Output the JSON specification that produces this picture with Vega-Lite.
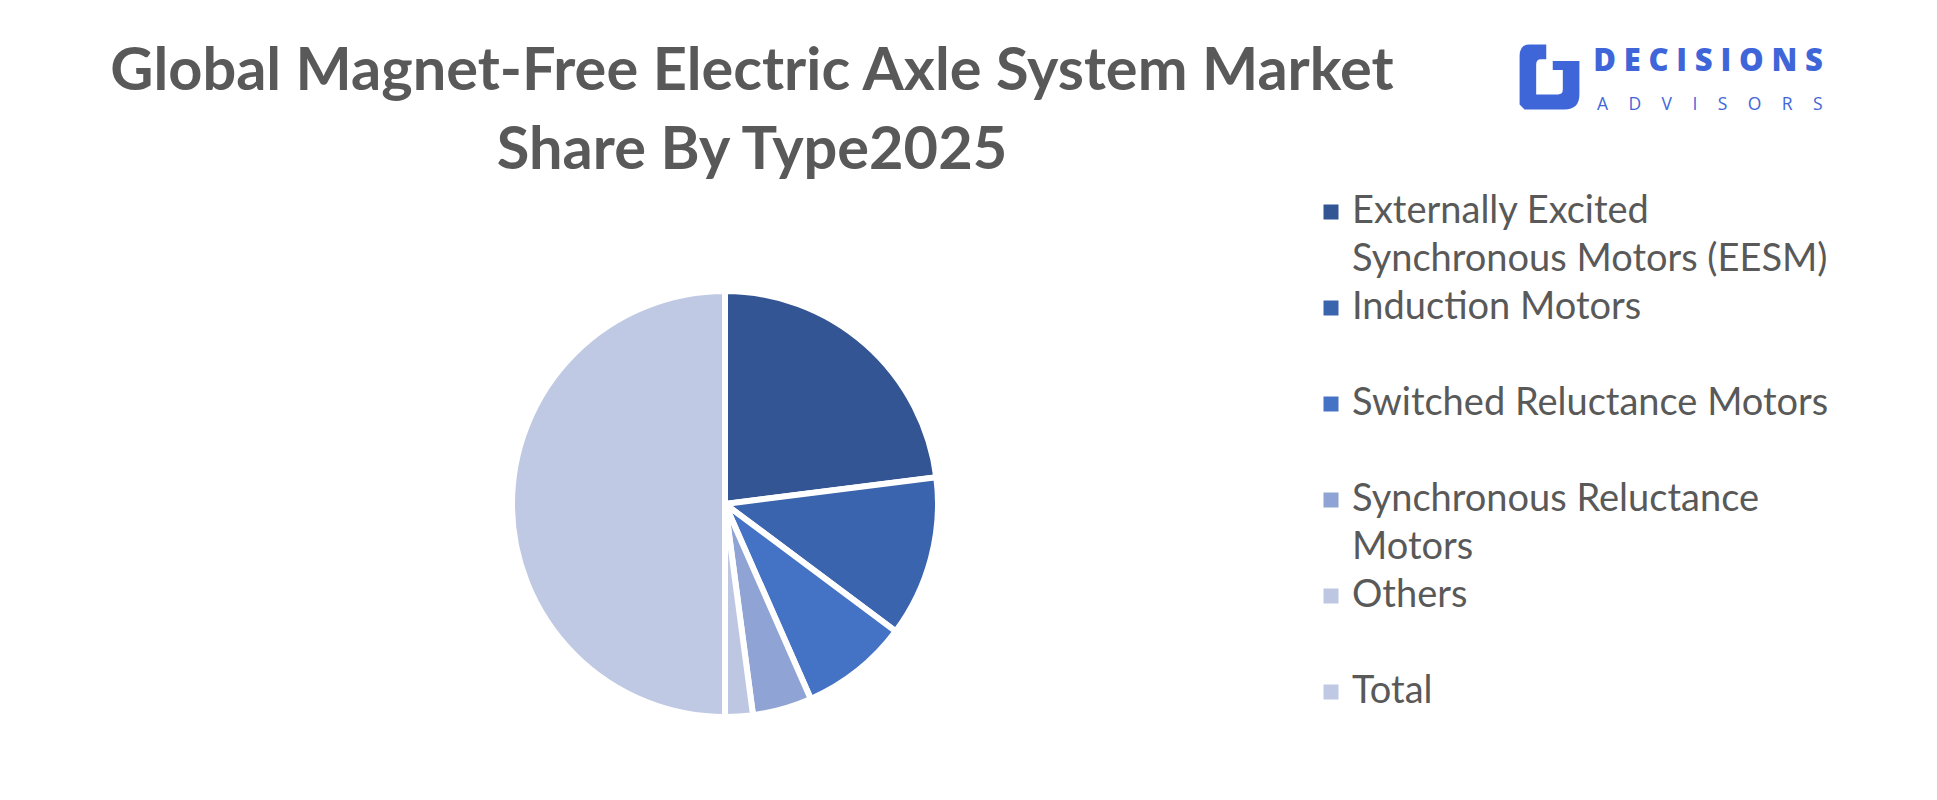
{
  "$schema": "https://vega.github.io/schema/vega-lite/v6.json",
  "width": 426,
  "height": 426,
  "autosize": {"type": "none"},
  "padding": {"left": 512, "top": 291, "right": 999, "bottom": 83},
  "background": "#ffffff",
  "title": {
    "text": ["Global Magnet-Free Electric Axle System Market", "Share By Type2025"],
    "anchor": "middle",
    "frame": "group",
    "dx": 27,
    "offset": -134,
    "font": "Lato",
    "fontSize": 59.5,
    "fontWeight": "bold",
    "color": "#595959",
    "lineHeight": 79,
    "limit": 1800
  },
  "config": {"view": {"stroke": null}},
  "layer": [
    {
      "data": {
        "values": [
          {"type": "Externally Excited Synchronous Motors (EESM)", "share": 23.0, "rank": 1},
          {"type": "Induction Motors", "share": 12.2, "rank": 2},
          {"type": "Switched Reluctance Motors", "share": 8.2, "rank": 3},
          {"type": "Synchronous Reluctance Motors", "share": 4.5, "rank": 4},
          {"type": "Others", "share": 2.1, "rank": 5},
          {"type": "Total", "share": 50.0, "rank": 6}
        ]
      },
      "mark": {"type": "arc", "outerRadius": 213, "stroke": "#ffffff", "strokeWidth": 6},
      "encoding": {
        "theta": {"field": "share", "type": "quantitative", "stack": true},
        "order": {"field": "rank", "type": "quantitative"},
        "color": {
          "field": "type",
          "type": "nominal",
          "scale": {
            "domain": ["Externally Excited Synchronous Motors (EESM)", "eesm-line-2", "Induction Motors", "gap-1", "Switched Reluctance Motors", "gap-2", "Synchronous Reluctance Motors", "synrm-line-2", "Others", "gap-3", "Total"],
            "range": ["#335593", "transparent", "#3A64AD", "transparent", "#4473C5", "transparent", "#8FA3D4", "transparent", "#BDC7E2", "transparent", "#BFC9E4"]
          },
          "legend": {
            "title": null,
            "orient": "none",
            "legendX": 800,
            "legendY": -98,
            "direction": "vertical",
            "padding": 0,
            "symbolType": "square",
            "symbolSize": 225,
            "symbolStrokeWidth": 0,
            "labelFont": "Lato",
            "labelFontSize": 38,
            "labelColor": "#595959",
            "labelLimit": 700,
            "labelOffset": 2,
            "rowPadding": 10,
            "labelExpr": "datum.label == 'Externally Excited Synchronous Motors (EESM)' ? 'Externally Excited' : datum.label == 'eesm-line-2' ? 'Synchronous Motors (EESM)' : datum.label == 'Synchronous Reluctance Motors' ? 'Synchronous Reluctance' : datum.label == 'synrm-line-2' ? 'Motors' : indexof(datum.label, 'gap-') == 0 ? '' : datum.label"
          }
        }
      }
    },
    {
      "data": {"values": [{"brand": "A\u2003\u2009D\u2003\u2009V\u2003\u2009I\u2003\u2009S\u2003\u2009O\u2003\u2009R\u2003\u2009S"}]},
      "mark": {"type": "point", "opacity": 0, "filled": true, "color": "#3F66D9"},
      "encoding": {
        "shape": {
          "field": "brand",
          "type": "nominal",
          "scale": {"range": ["M-0.1,-1.85 L-0.62,-1.85 Q-0.92,-1.85 -0.92,-1.49 L-0.92,0 L-0.77,0.15 L0.46,0.15 Q0.92,0.15 0.92,-0.31 L0.92,-1.34 L0.1,-1.34 L0.1,-1.06 L0.41,-1.06 L0.41,-0.47 Q0.41,-0.31 0.26,-0.31 L-0.41,-0.31 L-0.41,-1.23 Q-0.41,-1.39 -0.26,-1.39 L-0.1,-1.39 Z"]},
          "legend": {
            "title": "D\u2005E\u2005C\u2005I\u2005S\u2005I\u2005O\u2005N\u2005S",
            "orient": "none",
            "legendX": 1005,
            "legendY": -244,
            "padding": 0,
            "titleFont": "Open Sans",
            "titleFontSize": 31,
            "titleFontWeight": 800,
            "titleColor": "#3F66D9",
            "titleAnchor": "end",
            "titlePadding": -6,
            "titleLimit": 600,
            "symbolSize": 4225,
            "symbolFillColor": "#3F66D9",
            "symbolStrokeColor": "#3F66D9",
            "symbolStrokeWidth": 0,
            "symbolOpacity": 1,
            "labelFont": "Open Sans",
            "labelFontSize": 17.5,
            "labelColor": "#3F66D9",
            "labelLimit": 500,
            "labelOffset": 15
          }
        }
      }
    }
  ]
}
